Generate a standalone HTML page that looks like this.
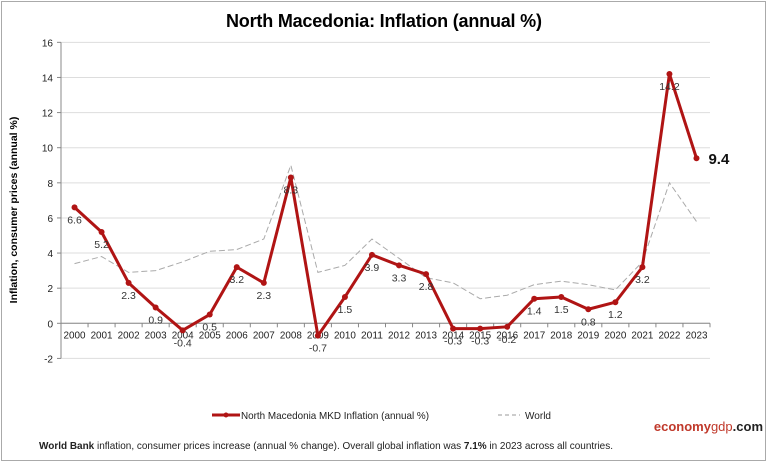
<!DOCTYPE html>
<html><head><meta charset="utf-8"><style>
body{margin:0;background:#fff;font-family:"Liberation Sans",Arial,sans-serif}
#wrap{position:relative;width:768px;height:463px;overflow:hidden}
</style></head><body>
<div id="wrap">
<svg id="chart" width="768" height="463" xmlns="http://www.w3.org/2000/svg">
<rect x="1.5" y="1.5" width="764" height="459" fill="#fff" stroke="#aaa"/>
<text x="384" y="27" text-anchor="middle" font-size="18" font-weight="bold" fill="#000" textLength="316">North Macedonia: Inflation (annual %)</text>
<text transform="translate(17,210) rotate(-90)" text-anchor="middle" font-size="10.5" font-weight="bold">Inflation, consumer prices (annual %)</text>
<g id="grid"></g><g id="axes"></g><g id="series"></g>
<g>
<line x1="212" y1="415" x2="240" y2="415" stroke="#b01414" stroke-width="3"/>
<circle cx="226" cy="415" r="2.5" fill="#b01414"/>
<text x="241" y="419" font-size="10.5" fill="#222" textLength="188" lengthAdjust="spacingAndGlyphs">North Macedonia MKD Inflation (annual %)</text>
<line x1="498" y1="415" x2="520" y2="415" stroke="#999" stroke-dasharray="4,3"/>
<text x="525" y="419" font-size="10.5" fill="#222" textLength="26" lengthAdjust="spacingAndGlyphs">World</text>
</g>
<text x="763" y="431" text-anchor="end" font-size="13" font-weight="bold"><tspan fill="#c0392b">economy</tspan><tspan fill="#c0392b" font-weight="normal">gdp</tspan><tspan fill="#222">.com</tspan></text>
<text x="39" y="449" font-size="10.5" fill="#222" textLength="574" lengthAdjust="spacingAndGlyphs"><tspan font-weight="bold">World Bank</tspan> inflation, consumer prices increase (annual % change).   Overall global inflation was <tspan font-weight="bold">7.1%</tspan> in 2023 across all countries.</text>
</svg>
</div>
<script>
const years=["2000","2001","2002","2003","2004","2005","2006","2007","2008","2009","2010","2011","2012","2013","2014","2015","2016","2017","2018","2019","2020","2021","2022","2023"];
const mkd=[6.6,5.2,2.3,0.9,-0.4,0.5,3.2,2.3,8.3,-0.7,1.5,3.9,3.3,2.8,-0.3,-0.3,-0.2,1.4,1.5,0.8,1.2,3.2,14.2,9.4];
const world=[3.4,3.8,2.9,3.0,3.5,4.1,4.2,4.8,9.0,2.9,3.3,4.8,3.7,2.6,2.3,1.4,1.6,2.2,2.4,2.2,1.9,3.5,8.0,5.8];
const yTicks=[-2,0,2,4,6,8,10,12,14,16];
const NS="http://www.w3.org/2000/svg";
const X0=61,X1=710,Y0=323.3,UNIT=17.56;
const bw=(X1-X0)/years.length;
function x(i){return X0+bw*(i+0.5);}
function y(v){return Y0-v*UNIT;}
function mk(tag,attrs,parent){const e=document.createElementNS(NS,tag);for(const k in attrs)e.setAttribute(k,attrs[k]);parent.appendChild(e);return e;}
const grid=document.getElementById('grid'),axes=document.getElementById('axes'),ser=document.getElementById('series');
yTicks.forEach(t=>{
 const l=mk('line',{x1:X0,x2:X1,y1:y(t),y2:y(t),stroke:'#ddd'},grid);
 
 
 mk('line',{x1:X0-4,x2:X0,y1:y(t),y2:y(t),stroke:'#888'},axes);
 const tx=mk('text',{x:X0-8,y:y(t)+4,'text-anchor':'end','font-size':'10','fill':'#222'},axes);
 tx.textContent=t;
 
 
});
const ya=mk('line',{x1:X0,x2:X0,y1:y(16),y2:y(-2),stroke:'#888'},axes);


const xa=mk('line',{x1:X0,x2:X1,y1:Y0,y2:Y0,stroke:'#888'},axes);


years.forEach((yr,i)=>{
 mk('line',{x1:X0+bw*i,x2:X0+bw*i,y1:Y0,y2:Y0+4,stroke:'#888'},axes);
 const tx=mk('text',{x:x(i),y:Y0+15,'text-anchor':'middle','font-size':'10.5',fill:'#222',textLength:'22',lengthAdjust:'spacingAndGlyphs'},axes);
 tx.textContent=yr;
 
 
});
mk('line',{x1:X1,x2:X1,y1:Y0,y2:Y0+4,stroke:'#888'},axes);
const wp=mk('polyline',{points:world.map((v,i)=>x(i)+','+y(v)).join(' '),fill:'none',stroke:'#aaa','stroke-width':1,'stroke-dasharray':'6,3'},ser);


const mp=mk('polyline',{points:mkd.map((v,i)=>x(i)+','+y(v)).join(' '),fill:'none',stroke:'#b01414','stroke-width':3,'stroke-linejoin':'round'},ser);


mkd.forEach((v,i)=>{
 const c=mk('circle',{cx:x(i),cy:y(v),r:3,fill:'#b01414'},ser);
 
 
 const last=i===mkd.length-1;
 const t=mk('text',last?{x:x(i)+12,y:y(v)+6,'font-size':'15','font-weight':'bold',fill:'#111'}:{x:x(i),y:y(v)+16,'text-anchor':'middle','font-size':'10.5',fill:'#333'},ser);
 t.textContent=v.toFixed(1);
 
 
});
</script>
</body></html>
